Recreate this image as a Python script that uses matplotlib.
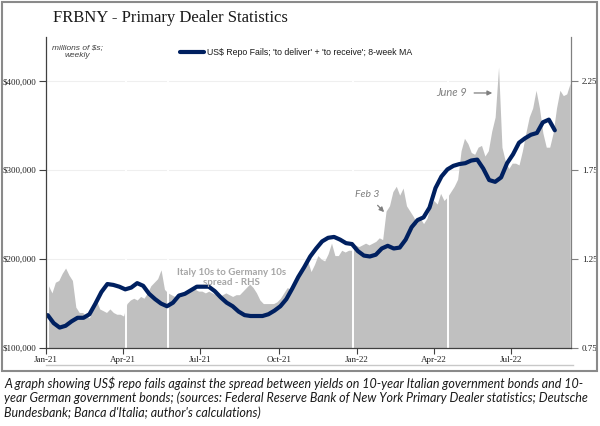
import matplotlib
matplotlib.use("Agg")
import matplotlib.pyplot as plt
import pandas as pd
from matplotlib.patches import Rectangle
from matplotlib.lines import Line2D

# ---------------- data ----------------
# Italy 10y - Germany 10y spread (pct pts, RHS), sampled every 4 days
spread_start = "2021-01-04"
spread_values = [
    1.10, 1.06, 1.12, 1.13, 1.17, 1.20, 1.16, 1.13, 0.98, 0.95,
    0.95, 0.93, 0.92, 0.97, 1.02, 0.97, 0.96, 0.95, 0.97, 0.95,
    0.94, 0.94, 0.93, 1.00, 1.02, 1.03, 1.02, 1.04, 1.03, 1.06,
    1.10, 1.12, 1.14, 1.19, 1.08, 1.06, 1.05, 1.04, 1.05, 1.06,
    1.06, 1.08, 1.09, 1.08, 1.07, 1.07, 1.06, 1.07, 1.06, 1.05,
    1.04, 1.05, 1.06, 1.05, 1.04, 1.05, 1.05, 1.07, 1.09, 1.11,
    1.09, 1.06, 1.02, 1.00, 1.00, 1.00, 1.00, 1.01, 1.03, 1.06,
    1.09, 1.08, 1.10, 1.14, 1.18, 1.22, 1.24, 1.18, 1.22, 1.27,
    1.25, 1.24, 1.28, 1.34, 1.27, 1.27, 1.30, 1.29, 1.30, 1.30,
    1.33, 1.32, 1.33, 1.34, 1.33, 1.34, 1.35, 1.37, 1.36, 1.52,
    1.55, 1.63, 1.66, 1.61, 1.65, 1.55, 1.52, 1.49, 1.45, 1.48,
    1.45, 1.48, 1.55, 1.58, 1.56, 1.62, 1.58, 1.60, 1.63, 1.66,
    1.70, 1.86, 1.93, 1.90, 1.85, 1.84, 1.88, 1.89, 1.83, 1.86,
    1.97, 2.05, 2.33, 1.88, 1.80, 1.76, 1.79, 1.79, 1.78, 1.86,
    1.96, 2.05, 2.10, 2.20, 2.10, 1.96, 1.88, 1.88, 1.96, 2.10,
    2.20, 2.17, 2.18, 2.24,
]
# days with no spread quote (drawn as breaks in the area)
gap_dates = ["2021-04-05", "2021-05-24", "2021-12-27", "2022-04-18"]

# US$ repo fails, 8-week MA, weekly (millions of $)
repo_start = "2021-01-03"
repo_values = [
    137000, 128000, 123000, 125000, 130000, 134000, 134000, 138000, 150000, 163000,
    172000, 171000, 169000, 166000, 168000, 173000, 170000, 161000, 155000, 150000,
    147000, 151000, 159000, 161000, 165000, 169000, 169000, 169000, 164000, 157000,
    151000, 147000, 141000, 137000, 136000, 136000, 136000, 138000, 142000, 147000,
    155000, 167000, 180000, 191000, 203000, 212000, 220000, 224000, 225000, 222000,
    218000, 217000, 209000, 204000, 203000, 205000, 212000, 215000, 212000, 213000,
    222000, 236000, 244000, 247000, 258000, 280000, 293000, 301000, 305000, 307000,
    308000, 311000, 312000, 302000, 289000, 287000, 292000, 308000, 318000, 331000,
    336000, 340000, 342000, 354000, 357000, 345000,
]

left_ticks = [100000, 200000, 300000, 400000]
right_ticks = [0.75, 1.25, 1.75, 2.25]
xtick_dates = ["2021-01-01", "2021-04-01", "2021-07-01", "2021-10-01",
               "2022-01-01", "2022-04-01", "2022-07-01"]
xtick_labels = ["Jan-21", "Apr-21", "Jul-21", "Oct-21", "Jan-22", "Apr-22", "Jul-22"]

spread_dates = pd.date_range(spread_start, periods=len(spread_values), freq="4D")
repo_dates = pd.date_range(repo_start, periods=len(repo_values), freq="7D")

# ---------------- figure ----------------
SERIF = "Liberation Serif"
SANS = "Liberation Sans"
CAL = "Lato"
NAVY = "#002060"
GRAY_FILL = "#c0c0c0"

fig = plt.figure(figsize=(6.0, 4.26), dpi=100)
fig.patch.set_facecolor("white")

ax = fig.add_axes([46 / 600, 1 - 348 / 426, 525 / 600, 311 / 426])
ax2 = ax.twinx()
ax.set_zorder(ax2.get_zorder() + 1)
ax.patch.set_visible(False)

# spread area (RHS)
ax2.set_axisbelow(True)
ax2.yaxis.grid(True, color="#efefef", lw=0.8, zorder=0)
ax2.fill_between(spread_dates, spread_values, 0, color=GRAY_FILL, lw=0, zorder=2)
for d in gap_dates:
    ax2.axvline(pd.Timestamp(d), color="white", lw=1.4, zorder=3)
ax2.set_ylim(0.75, 2.5)
ax2.set_yticks(right_ticks)
ax2.set_yticklabels([f"{v:.2f}" for v in right_ticks], fontfamily=SERIF, fontsize=6.5, color="#222222")
ax2.tick_params(axis="y", direction="out", length=5, width=0.8, color="#808080", pad=3)

# repo fails line (LHS)
ax.plot(repo_dates, repo_values, color=NAVY, lw=3.0, solid_capstyle="round",
        solid_joinstyle="round", label="US$ Repo Fails; 'to deliver' + 'to receive'; 8-week MA")
ax.set_ylim(100000, 450000)
ax.set_yticks(left_ticks)
ax.set_yticklabels([f"${v:,.0f}" for v in left_ticks], fontfamily=SERIF, fontsize=6.5, color="#222222")
ax.tick_params(axis="y", direction="out", length=5, width=0.8, color="#404040", pad=2)

ax.set_xlim(pd.Timestamp("2021-01-01"), pd.Timestamp("2022-09-09"))
ax.set_xticks([pd.Timestamp(d) for d in xtick_dates])
ax.set_xticklabels(xtick_labels, fontfamily=SERIF, fontsize=6.5, color="#222222")
ax.tick_params(axis="x", direction="out", length=4, width=0.8, color="#404040", pad=1.5)

for s in ["top", "right"]:
    ax.spines[s].set_visible(False)
ax.spines["left"].set_color("#404040")
ax.spines["bottom"].set_color("#404040")
ax.spines["left"].set_linewidth(0.9)
ax.spines["bottom"].set_linewidth(0.9)
for s in ["top", "left", "bottom"]:
    ax2.spines[s].set_visible(False)
ax2.spines["right"].set_color("#808080")
ax2.spines["right"].set_linewidth(0.9)

# legend
leg = ax.legend(loc="center left", bbox_to_anchor=(0.255, 0.9486), frameon=False,
                prop={"family": SANS, "size": 6.3}, handlelength=2.8, handletextpad=0.25,
                borderpad=0, borderaxespad=0)
for t in leg.get_texts():
    t.set_color("#1a1a1a")

# unit note
fig.text(77 / 600, 1 - 51.5 / 426, "millions of $s;\nweekly", ha="center", va="center",
         fontfamily=SANS, fontstyle="italic", fontsize=6, color="#404040", linespacing=1.35)

# annotations
ax.text(0.354, 0.228, "Italy 10s to Germany 10s\nspread - RHS", transform=ax.transAxes,
        ha="center", va="center", fontfamily=CAL, fontsize=7, color="#a6a6a6",
        fontweight="bold", linespacing=1.15)
ax.annotate("Feb 3", xy=(0.644, 0.437), xytext=(0.611, 0.495),
            xycoords="axes fraction", textcoords="axes fraction",
            ha="center", va="center", fontfamily=CAL, fontstyle="italic", fontsize=7.5,
            color="#7f7f7f",
            arrowprops=dict(arrowstyle="-|>", color="#7f7f7f", lw=0.9, mutation_scale=7,
                            shrinkA=4, shrinkB=0))
ax.annotate("June 9", xy=(0.850, 0.820), xytext=(0.773, 0.820),
            xycoords="axes fraction", textcoords="axes fraction",
            ha="center", va="center", fontfamily=CAL, fontstyle="italic", fontsize=8,
            color="#7f7f7f",
            arrowprops=dict(arrowstyle="-|>", color="#7f7f7f", lw=0.9, mutation_scale=7,
                            shrinkA=3, shrinkB=0))

# title
fig.text(170 / 600, 1 - 18 / 426, "FRBNY - Primary Dealer Statistics", ha="center", va="center",
         fontfamily=SERIF, fontsize=12, color="#1a1a1a")

# outer frame and underline
fig.add_artist(Rectangle((1.5 / 600, 1 - 371 / 426), 595 / 600, 369 / 426,
                         transform=fig.transFigure, fill=False, edgecolor="#8a8a8a", lw=1.5))
fig.add_artist(Line2D([46 / 600, 573 / 600], [1 - 365 / 426, 1 - 365 / 426],
                      transform=fig.transFigure, color="#c8c8c8", lw=1.0))

# caption
caption = ("A graph showing US$ repo fails against the spread between yields on 10-year Italian government bonds and 10-\n"
           "year German government bonds; (sources: Federal Reserve Bank of New York Primary Dealer statistics; Deutsche\n"
           "Bundesbank; Banca d'Italia; author's calculations)")
fig.text(4 / 600, 1 - 376 / 426, caption, ha="left", va="top", fontfamily=CAL,
         fontstyle="italic", fontsize=9, color="#1a1a1a", linespacing=1.22)

fig.savefig("out.png", dpi=100, facecolor="white")
